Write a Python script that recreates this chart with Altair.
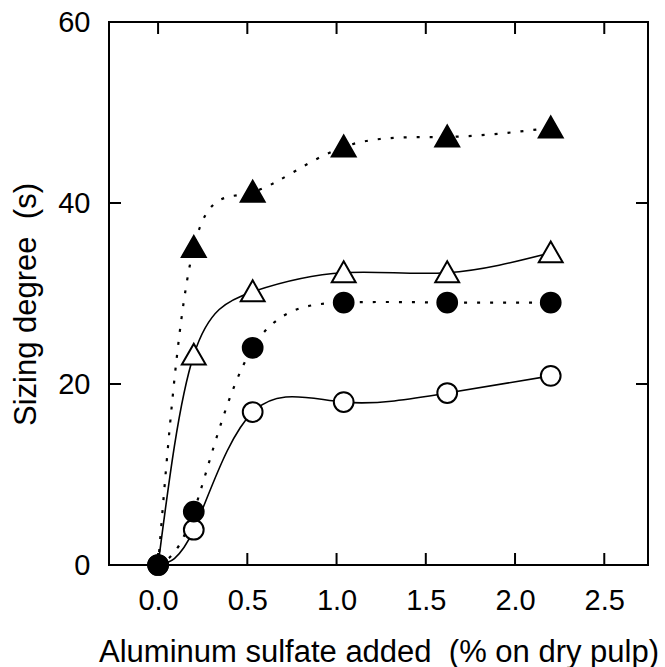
import altair as alt
import pandas as pd

# ---- data ----
x_vals = [0.0, 0.2, 0.53, 1.04, 1.62, 2.2]
filled_tri = [0, 35.1, 41.2, 46.2, 47.3, 48.3]
open_tri = [0, 23.2, 30.2, 32.3, 32.3, 34.5]
filled_circ = [0, 5.9, 24.0, 29.0, 29.0, 29.0]
open_circ = [0, 3.9, 16.9, 18.0, 19.0, 20.9]

x_ticks = [0.0, 0.5, 1.0, 1.5, 2.0, 2.5]
y_ticks = [0, 20, 40, 60]

x_title = "Aluminum sulfate added\u00a0 (% on dry pulp)"
y_title = "Sizing degree\u00a0 (s)"

series = {
    "filled_tri": filled_tri,
    "open_tri": open_tri,
    "filled_circ": filled_circ,
    "open_circ": open_circ,
}
rows = []
for name, vals in series.items():
    for xv, yv in zip(x_vals, vals):
        rows.append({"series": name, "x": xv, "y": yv})
df = pd.DataFrame(rows)
xt_df = pd.DataFrame({"v": x_ticks})
yt_df = pd.DataFrame({"v": y_ticks})

W, H = 539, 543
TICK = 12
FONT = "Liberation Sans"
xscale = alt.Scale(domain=[-0.275, 2.745], nice=False, zero=False)
yscale = alt.Scale(domain=[0, 60], nice=False)

common_axis = dict(ticks=False, domain=False, grid=False, labelColor="black",
                   labelFont=FONT, labelFontSize=29, titleFont=FONT,
                   titleFontSize=31, titleFontWeight="normal", titleColor="black")

ax_bottom = alt.Axis(orient="bottom", values=x_ticks, format=".1f", title=x_title,
                     labelPadding=21, titlePadding=22, **common_axis)
ax_left = alt.Axis(orient="left", values=y_ticks, format="d", title=y_title,
                   labelPadding=19, titlePadding=15, titleY=282, **common_axis)

base = alt.Chart(df)


def line_layer(name, dashed, axes=None):
    if axes is None:
        xe = alt.X("x:Q", scale=xscale, axis=None)
        ye = alt.Y("y:Q", scale=yscale, axis=None)
    else:
        xe = alt.X("x:Q", scale=xscale, axis=axes[0])
        ye = alt.Y("y:Q", scale=yscale, axis=axes[1])
    kw = dict(color="black", strokeWidth=1.6, interpolate="natural")
    if dashed:
        kw["strokeDash"] = [3, 10]
        kw["strokeWidth"] = 2.2
    return base.transform_filter(alt.datum.series == name).mark_line(**kw).encode(
        x=xe, y=ye, order="x:Q")


TRI = "M-1,0.8L0,-0.95L1,0.8Z"


def point_layer(name, shape, filled, size, skip_zero):
    ch = base.transform_filter(alt.datum.series == name)
    if skip_zero:
        ch = ch.transform_filter(alt.datum.x > 0)
    return ch.mark_point(shape=shape, filled=True, size=size,
                         fill="black" if filled else "white", stroke="black",
                         strokeWidth=2, opacity=1).encode(
        x=alt.X("x:Q", scale=xscale, axis=None),
        y=alt.Y("y:Q", scale=yscale, axis=None))


# inward tick marks on all four sides
tick_kw = dict(color="black", strokeWidth=2)
xt = alt.Chart(xt_df)
yt = alt.Chart(yt_df)
ticks_bottom = xt.mark_rule(**tick_kw).encode(
    x=alt.X("v:Q", scale=xscale, axis=None), y=alt.value(H), y2=alt.value(H - TICK))
ticks_top = xt.mark_rule(**tick_kw).encode(
    x=alt.X("v:Q", scale=xscale, axis=None), y=alt.value(0), y2=alt.value(TICK))
ticks_left = yt.mark_rule(**tick_kw).encode(
    y=alt.Y("v:Q", scale=yscale, axis=None), x=alt.value(0), x2=alt.value(TICK))
ticks_right = yt.mark_rule(**tick_kw).encode(
    y=alt.Y("v:Q", scale=yscale, axis=None), x=alt.value(W), x2=alt.value(W - TICK))

layers = [
    line_layer("filled_tri", True, (ax_bottom, ax_left)),
    line_layer("open_tri", False),
    line_layer("filled_circ", True),
    line_layer("open_circ", False),
    ticks_bottom, ticks_top, ticks_left, ticks_right,
    point_layer("filled_tri", TRI, True, 570, True),
    point_layer("open_tri", TRI, False, 570, True),
    point_layer("open_circ", "circle", False, 390, False),
    point_layer("filled_circ", "circle", True, 390, False),
]

chart = alt.layer(*layers).resolve_axis(x="independent", y="independent").properties(
    width=W, height=H,
    padding={"left": 109, "top": 22, "right": 17, "bottom": 102},
    autosize="none",
    background="white",
).configure_view(stroke="black", strokeWidth=2)

chart.save("out.html", embed_options={"renderer": "svg", "actions": False})
